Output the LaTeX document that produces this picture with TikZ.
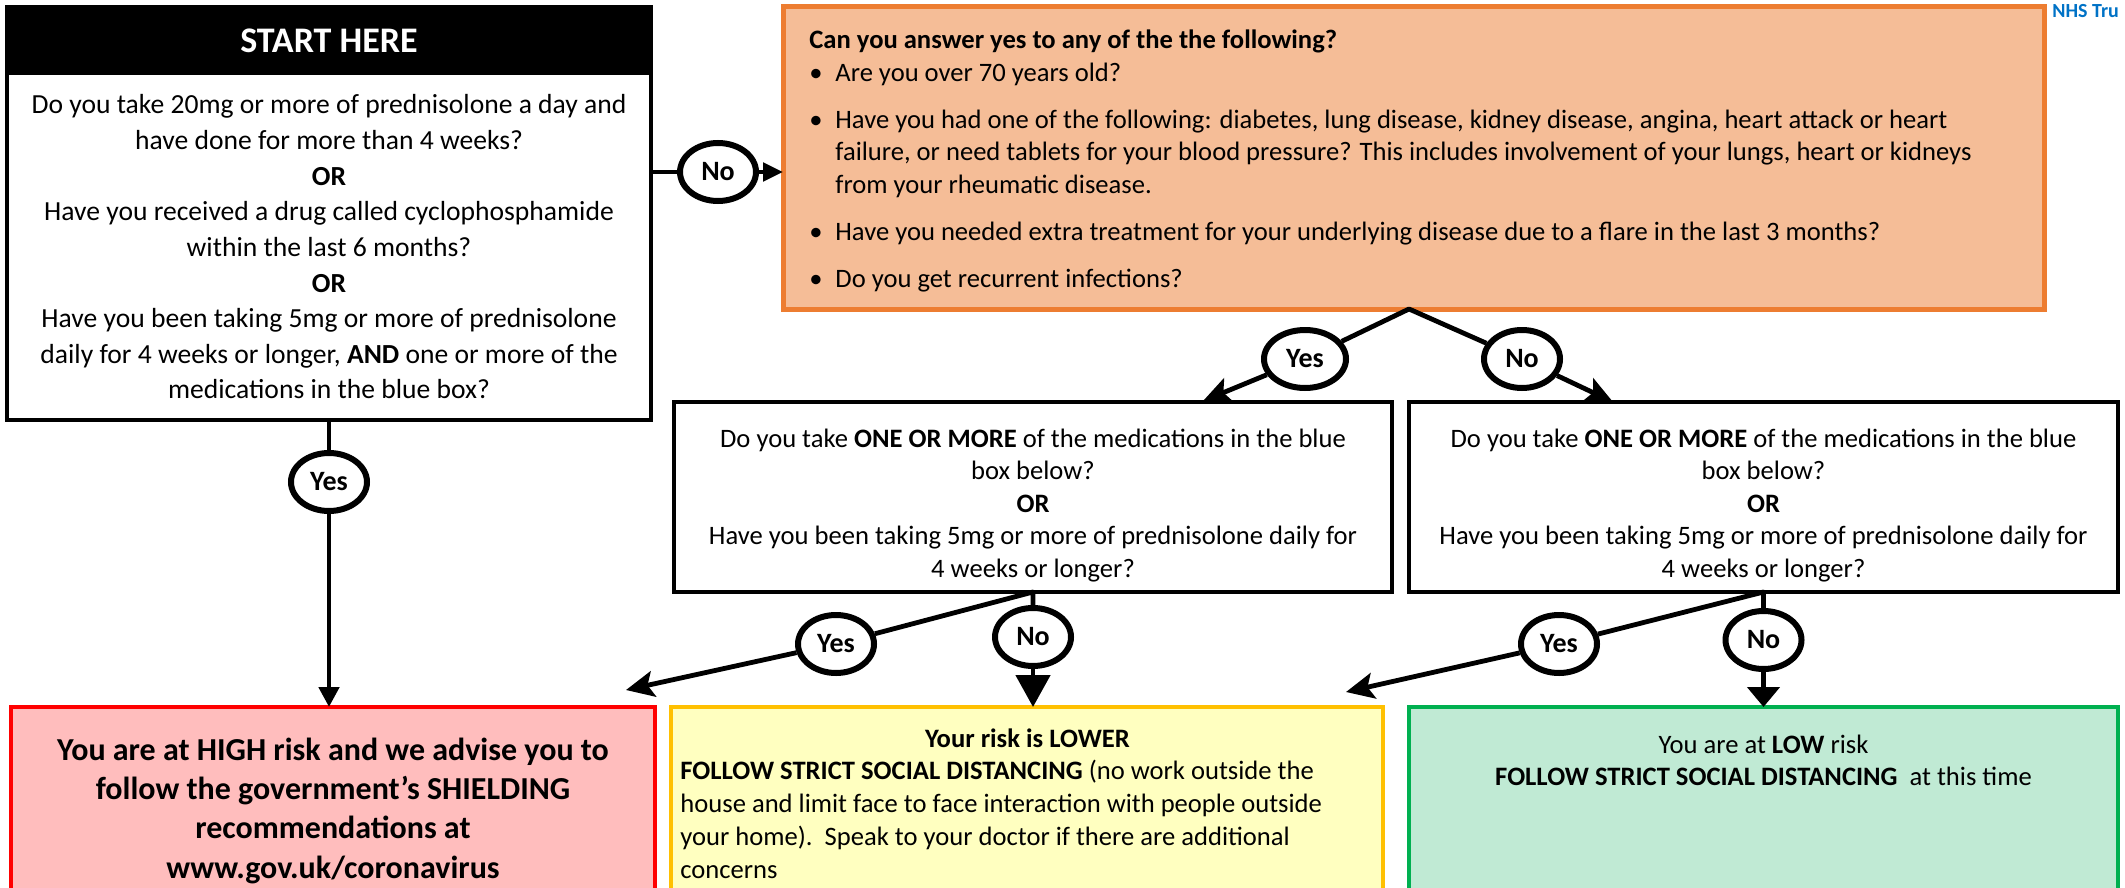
\documentclass[tikz,border=0pt]{standalone}
\usepackage{fontspec}
\setmainfont{Carlito}
\usetikzlibrary{arrows.meta,shapes.geometric}
\definecolor{orfill}{HTML}{F5BD97}
\definecolor{ordraw}{HTML}{ED7D31}
\definecolor{redfill}{HTML}{FFBDBD}
\definecolor{reddraw}{HTML}{FF0000}
\definecolor{yelfill}{HTML}{FFFFC0}
\definecolor{yeldraw}{HTML}{FFC000}
\definecolor{grnfill}{HTML}{C0EAD4}
\definecolor{grndraw}{HTML}{00B050}
\definecolor{nhsblue}{HTML}{0072C6}
\newcommand{\fsz}[2]{\fontsize{#1}{#2}\selectfont}
\begin{document}
\begin{tikzpicture}[x=0.5pt,y=-0.5pt,
  box/.style={draw, anchor=north west, inner sep=0pt, outer sep=0pt},
  txt/.style={inner sep=0pt, anchor=base},
  conn/.style={line width=2.4pt, line join=round},
  circ/.style={ellipse, draw, line width=3pt, fill=white, minimum width=38pt, minimum height=29pt, inner sep=0pt, font=\fsz{14}{16}\bfseries},
  tri/.style={-{Triangle[width=#1,length=#1]}},
  stl/.style={-{Stealth[length=14pt,width=13pt,inset=3pt]}}
  ]
\useasboundingbox (0,0) rectangle (2125,888);

% start box
\node[box, line width=1.6pt, minimum width=322pt, minimum height=206.5pt] (start) at (7,7) {};
\node[box, draw=none, fill=black, minimum width=322pt, minimum height=34pt, text=white, font=\fsz{18}{20}\bfseries] (hdr) at (7,7) {START HERE};
\node[txt] (q1) at (329,114) {\parbox[t]{320pt}{\centering\fsz{13.8}{17.8}%
Do you take 20mg or more of prednisolone a day and\\
have done for more than 4 weeks?\\
\textbf{OR}\\
Have you received a drug called cyclophosphamide\\
within the last 6 months?\\
\textbf{OR}\\
Have you been taking 5mg or more of prednisolone\\
daily for 4 weeks or longer, \textbf{AND} one or more of the\\
medications in the blue box?}};

% orange box
\node[box, draw=ordraw, fill=orfill, line width=2.5pt, minimum width=630.5pt, minimum height=151pt] (orange) at (783,7) {};
\node[inner sep=0pt, anchor=base west] (otxt) at (809,49) {\parbox[t]{615pt}{\raggedright\fsz{13.3}{16.25}%
\textbf{Can you answer yes to any of the the following?}\\
\makebox[13pt][l]{\textbullet}Are you over 70 years old?\\[7.25pt]
\makebox[13pt][l]{\textbullet}Have you had one of the following: diabetes, lung disease, kidney disease, angina, heart attack or heart\\
\hspace*{13pt}failure, or need tablets for your blood pressure? This includes involvement of your lungs, heart or kidneys\\
\hspace*{13pt}from your rheumatic disease.\\[7.25pt]
\makebox[13pt][l]{\textbullet}Have you needed extra treatment for your underlying disease due to a flare in the last 3 months?\\[7.25pt]
\makebox[13pt][l]{\textbullet}Do you get recurrent infections?}};

\node[anchor=north west, inner sep=0pt, text=nhsblue, font=\fsz{10}{12}\bfseries] (nhs) at (2052,4) {NHS Tru};

% middle question boxes
\node[box, line width=2pt, minimum width=359pt, minimum height=95pt] (mid) at (674,402) {};
\node[txt] (q2) at (1033,447) {\parbox[t]{355pt}{\centering\fsz{13.3}{16.3}%
Do you take \textbf{ONE OR MORE} of the medications in the blue\\
box below?\\
\textbf{OR}\\
Have you been taking 5mg or more of prednisolone daily for\\
4 weeks or longer?}};
\node[box, line width=2pt, minimum width=354.5pt, minimum height=95pt] (right) at (1409,402) {};
\node[txt] (q3) at (1763.5,447) {\parbox[t]{352pt}{\centering\fsz{13.3}{16.3}%
Do you take \textbf{ONE OR MORE} of the medications in the blue\\
box below?\\
\textbf{OR}\\
Have you been taking 5mg or more of prednisolone daily for\\
4 weeks or longer?}};

% result boxes
\node[box, draw=reddraw, fill=redfill, line width=2pt, minimum width=322pt, minimum height=100pt] (red) at (11,707) {};
\node[txt] (r1) at (333,760) {\parbox[t]{318pt}{\centering\fsz{16}{19.7}\bfseries
You are at HIGH risk and we advise you to\\
follow the government’s SHIELDING\\
recommendations at\\
www.gov.uk/coronavirus}};
\node[box, draw=yeldraw, fill=yelfill, line width=2pt, minimum width=356pt, minimum height=100pt] (yellow) at (671,707) {};
\node[inner sep=0pt, anchor=base west] (r2) at (680,747) {\parbox[t]{347pt}{\raggedright\fsz{13.3}{16.4}%
\makebox[347pt][c]{\textbf{Your risk is LOWER}}\\
\textbf{FOLLOW STRICT SOCIAL DISTANCING} (no work outside the\\
house and limit face to face interaction with people outside\\
your home).\ \ Speak to your doctor if there are additional\\
concerns}};
\node[box, draw=grndraw, fill=grnfill, line width=2pt, minimum width=354.5pt, minimum height=100pt] (green) at (1409,707) {};
\node[txt] (r3) at (1763.5,753) {\parbox[t]{350pt}{\centering\fsz{13.3}{16.4}%
You are at \textbf{LOW} risk\\
\textbf{FOLLOW STRICT SOCIAL DISTANCING}\ \ at this time}};

% decision circles
\node[circ] (no1) at (718,172) {No};
\node[circ] (yes1) at (329,482) {Yes};
\node[circ, minimum width=41pt] (yes2) at (1305,359) {Yes};
\node[circ] (no2) at (1522,359) {No};
\node[circ] (yes3) at (836,644) {Yes};
\node[circ] (no3) at (1033,637) {No};
\node[circ] (yes4) at (1559,644) {Yes};
\node[circ] (no4) at (1763.5,640) {No};

\coordinate (s1) at (1409,309);
\coordinate (t2) at (1203,401);
\coordinate (t3) at (1613,402);
\coordinate (t4) at (626,690);
\coordinate (t5) at (1346,692);

% connectors
\draw[conn] (start.east |- no1) -- (no1.west);
\draw[conn, -{Triangle[width=9pt,length=10pt]}] (no1.east) -- (orange.west |- no1);
\draw[conn] (start.south) -- (yes1);
\draw[conn, tri=10pt] (yes1) -- (yes1 |- red.north);
\draw[conn] (yes2) -- (s1) -- (no2);
\draw[conn, stl] (yes2) -- (t2);
\draw[conn, stl] (no2) -- (t3);
\draw[conn] (yes3) -- (mid.south) -- (no3);
\draw[conn, stl] (yes3) -- (t4);
\draw[conn, -{Triangle[width=17pt,length=16pt]}] (no3) -- (no3 |- yellow.north);
\draw[conn] (yes4) -- (right.south) -- (no4);
\draw[conn, stl] (yes4) -- (t5);
\draw[conn, -{Triangle[width=16pt,length=10pt]}] (no4) -- (no4 |- green.north);
\end{tikzpicture}
\end{document}
